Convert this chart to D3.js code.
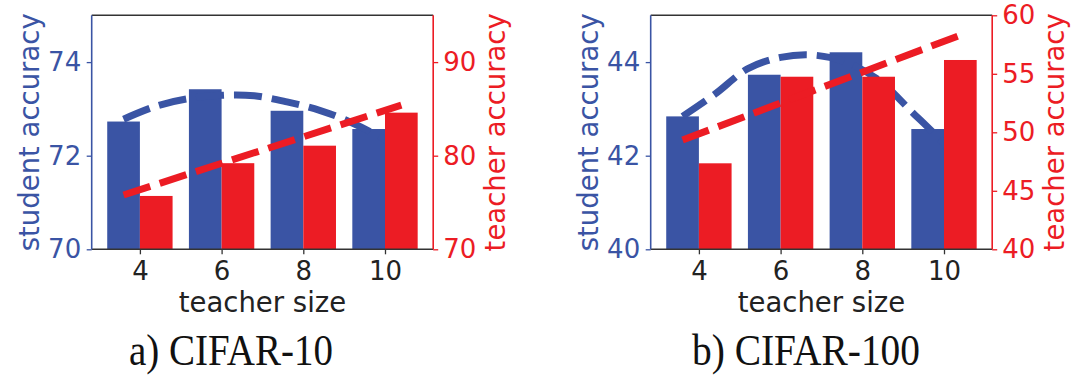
<!DOCTYPE html>
<html><head><meta charset="utf-8">
<script src="https://cdn.jsdelivr.net/npm/d3@7"></script>
<style>
html,body{margin:0;padding:0;background:#fff;}
svg{display:block;}
</style></head><body>
<svg id="fig" width="1071" height="377"></svg>
<script>
// Teacher network sizes (x axis)
const teacherSizes = [4, 6, 8, 10];

// CIFAR-10: student / teacher accuracy per teacher size
const c10Student = [72.73, 73.42, 72.96, 72.57];
const c10Teacher = [75.7, 79.2, 81.07, 84.6];
const c10StudentTicks = [70, 72, 74];
const c10TeacherTicks = [70, 80, 90];

// CIFAR-100: student / teacher accuracy per teacher size
const c100Student = [42.84, 43.73, 44.21, 42.57];
const c100Teacher = [47.35, 54.75, 54.75, 56.18];
const c100StudentTicks = [40, 42, 44];
const c100TeacherTicks = [40, 45, 50, 55, 60];

// Fitted trend curves (dashed)
const studentTrendX = [3.6, 4.4, 5.2, 6.0, 6.8, 7.6, 8.4, 9.2, 10.0, 10.4];
const c10StudentTrend = [72.78, 73.06, 73.22, 73.29, 73.28, 73.15, 72.97, 72.70, 72.34, 72.10];
const c100StudentTrend = [42.84, 43.32, 43.86, 44.10, 44.15, 44.0, 43.62, 42.95, 42.25, 41.78];
const teacherTrendX = [3.6, 10.4];
const c10TeacherTrend = [75.8, 85.4];
const c100TeacherTrend = [49.34, 58.3];

const xTickLabels = ["4", "6", "8", "10"];

const BLUE = "#3a54a4";
const RED = "#ec1c24";
const DARK = "#333333";
const SANS = "'DejaVu Sans', sans-serif";
const SERIF = "'Liberation Serif', 'Times New Roman', serif";

const svg = d3.select("#fig");

const plotTop = 15.3, plotBottom = 249.3, plotW = 341.5;
const xDomain = [2.82, 11.18];
const barW = 0.8;

function panel(o) {
  const g = svg.append("g");
  const x = d3.scaleLinear().domain(xDomain).range([o.left, o.left + plotW]);
  const yS = d3.scaleLinear().domain(o.studentDomain).range([plotBottom, plotTop]);
  const yT = d3.scaleLinear().domain(o.teacherDomain).range([plotBottom, plotTop]);

  // student bars sit just left of each tick
  g.append("g").selectAll("rect")
    .data(teacherSizes.map((s, i) => ({ s, v: o.student[i] })))
    .join("rect")
    .attr("x", d => x(d.s - barW))
    .attr("width", d => x(d.s) - x(d.s - barW))
    .attr("y", d => yS(d.v))
    .attr("height", d => yS(o.studentDomain[0]) - yS(d.v))
    .attr("fill", BLUE);

  const dash = "28,10";
  g.append("path")
    .datum(studentTrendX.map((t, i) => [t, o.studentTrend[i]]))
    .attr("d", d3.line().x(d => x(d[0])).y(d => yS(d[1])).curve(d3.curveCatmullRom))
    .attr("fill", "none").attr("stroke", BLUE).attr("stroke-width", 7)
    .attr("stroke-dasharray", dash);

  // teacher bars just right of each tick
  g.append("g").selectAll("rect")
    .data(teacherSizes.map((s, i) => ({ s, v: o.teacher[i] })))
    .join("rect")
    .attr("x", d => x(d.s))
    .attr("width", d => x(d.s + barW) - x(d.s))
    .attr("y", d => yT(d.v))
    .attr("height", d => yT(o.teacherDomain[0]) - yT(d.v))
    .attr("fill", RED);

  g.append("path")
    .datum(teacherTrendX.map((t, i) => [t, o.teacherTrend[i]]))
    .attr("d", d3.line().x(d => x(d[0])).y(d => yT(d[1])))
    .attr("fill", "none").attr("stroke", RED).attr("stroke-width", 7)
    .attr("stroke-dasharray", dash);

  const x0 = o.left, x1 = o.left + plotW;

  // axes
  const axL = g.append("g").attr("transform", `translate(${x0},0)`)
    .call(d3.axisLeft(yS).tickValues(o.studentTicks).tickSize(5).tickPadding(5.5).tickFormat(d3.format("d")));
  axL.select(".domain").remove();
  axL.selectAll("line").attr("stroke", BLUE).attr("stroke-width", 1.3);
  axL.selectAll("text").attr("fill", BLUE).style("font-family", SANS).style("font-size", "26px");

  const axR = g.append("g").attr("transform", `translate(${x1},0)`)
    .call(d3.axisRight(yT).tickValues(o.teacherTicks).tickSize(5).tickPadding(5).tickFormat(d3.format("d")));
  axR.select(".domain").remove();
  axR.selectAll("line").attr("stroke", RED).attr("stroke-width", 1.3);
  axR.selectAll("text").attr("fill", RED).style("font-family", SANS).style("font-size", "26px");

  const axB = g.append("g").attr("transform", `translate(0,${plotBottom})`)
    .call(d3.axisBottom(x).tickValues(teacherSizes).tickSize(5).tickPadding(7)
      .tickFormat((d, i) => xTickLabels[i]));
  axB.select(".domain").remove();
  axB.selectAll("line").attr("stroke", DARK).attr("stroke-width", 1.3);
  axB.selectAll("text").attr("fill", "#222").style("font-family", SANS).style("font-size", "26px");

  // spines
  const sp = g.append("g").attr("fill", "none").attr("stroke-width", 1.6);
  sp.append("line").attr("x1", x0).attr("x2", x1).attr("y1", plotTop).attr("y2", plotTop).attr("stroke", DARK);
  sp.append("line").attr("x1", x0).attr("x2", x1).attr("y1", plotBottom).attr("y2", plotBottom).attr("stroke", DARK);
  sp.append("line").attr("x1", x0).attr("x2", x0).attr("y1", plotTop).attr("y2", plotBottom).attr("stroke", BLUE);
  sp.append("line").attr("x1", x1).attr("x2", x1).attr("y1", plotTop).attr("y2", plotBottom).attr("stroke", RED);

  // axis labels
  const cy = (plotTop + plotBottom) / 2;
  g.append("text").attr("transform", `translate(${x0 - 53},${cy}) rotate(-90)`)
    .attr("text-anchor", "middle").attr("fill", BLUE)
    .style("font-family", SANS).style("font-size", "27.5px").text("student accuracy");
  g.append("text").attr("transform", `translate(${x1 + 72},${cy}) rotate(-90)`)
    .attr("text-anchor", "middle").attr("fill", RED)
    .style("font-family", SANS).style("font-size", "27.5px").text("teacher accuracy");
  g.append("text").attr("x", (x0 + x1) / 2).attr("y", 312)
    .attr("text-anchor", "middle").attr("fill", "#222")
    .style("font-family", SANS).style("font-size", "27.5px").text("teacher size");

  // caption (tall, narrow serif)
  g.append("text").attr("x", o.captionX).attr("y", 365)
    .attr("text-anchor", "middle").attr("fill", "#111")
    .attr("textLength", o.captionW).attr("lengthAdjust", "spacingAndGlyphs")
    .style("font-family", SERIF).style("font-size", "45px")
    .text(o.caption);
}

panel({
  left: 91.7,
  student: c10Student, teacher: c10Teacher,
  studentDomain: [70, 75], teacherDomain: [70, 95],
  studentTicks: c10StudentTicks, teacherTicks: c10TeacherTicks,
  studentTrend: c10StudentTrend, teacherTrend: c10TeacherTrend,
  caption: "a) CIFAR-10", captionX: 231, captionW: 204
});
panel({
  left: 650.7,
  student: c100Student, teacher: c100Teacher,
  studentDomain: [40, 45], teacherDomain: [40, 60],
  studentTicks: c100StudentTicks, teacherTicks: c100TeacherTicks,
  studentTrend: c100StudentTrend, teacherTrend: c100TeacherTrend,
  caption: "b) CIFAR-100", captionX: 806, captionW: 228
});
</script>
</body></html>
